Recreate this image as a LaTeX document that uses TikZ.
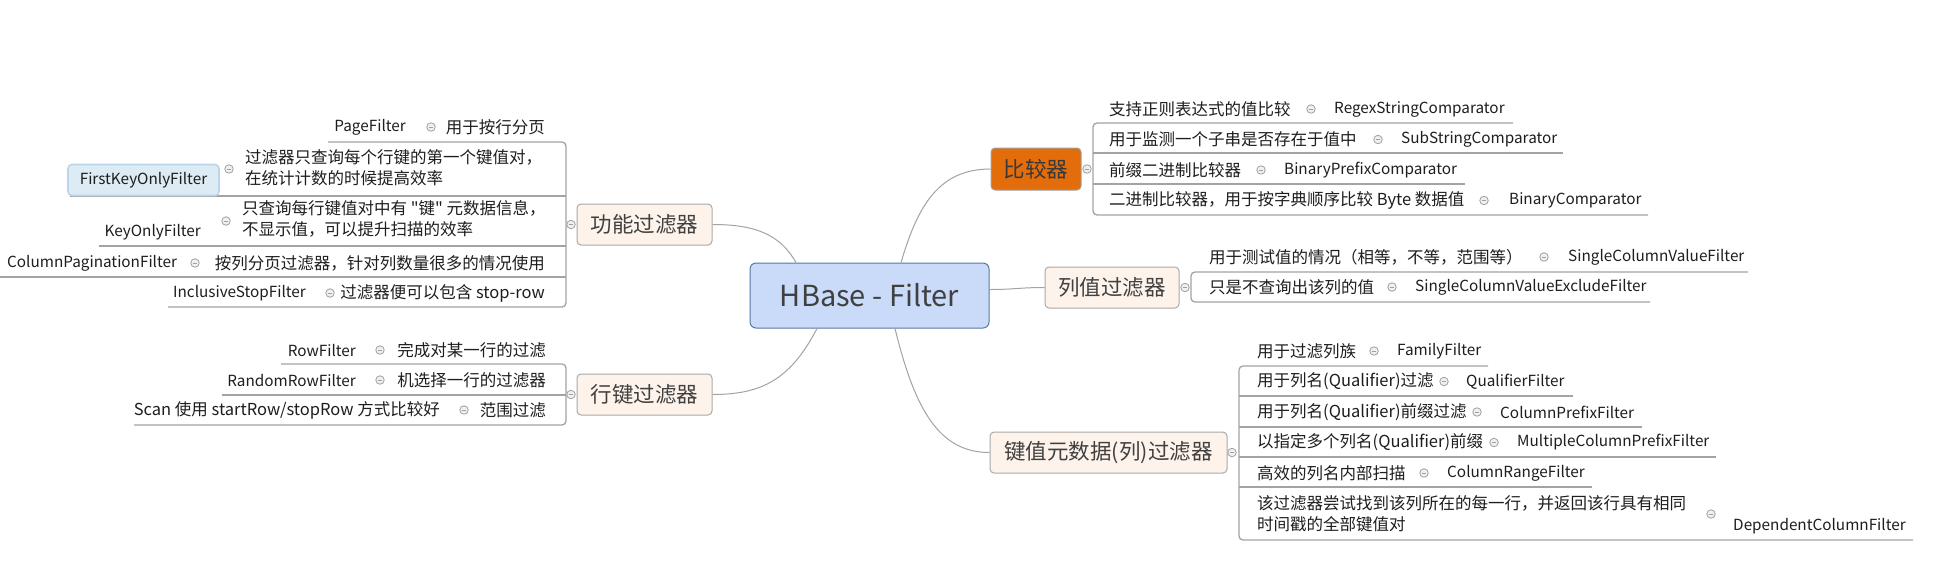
\documentclass[tikz,border=0pt]{standalone}
\usepackage{fontspec}
\setmainfont{Noto Sans CJK SC}[Ligatures=TeXOff]
\definecolor{lineg}{HTML}{A3A3A3}
\definecolor{txt}{HTML}{1E1E1E}
\definecolor{ntxt}{HTML}{404040}
\definecolor{otxt}{HTML}{383838}
\definecolor{hbfill}{HTML}{C9DBF9}
\definecolor{hbdraw}{HTML}{5B76A6}
\definecolor{brfill}{HTML}{FDF3EA}
\definecolor{brdraw}{HTML}{A9A9A9}
\definecolor{orng}{HTML}{E36C0B}
\definecolor{fkfill}{HTML}{DDEBF4}
\definecolor{fkdraw}{HTML}{BBD6EA}
\definecolor{togd}{HTML}{A0A0A0}
\definecolor{togf}{HTML}{F0F0F0}
\newcommand{\ulrow}[4]{\coordinate (#1a) at (#2,#4); \coordinate (#1b) at (#3,#4); \draw[ul] (#1a) -- (#1b);}
\begin{document}
\begin{tikzpicture}[x=1pt,y=-1pt,
  leaf/.style={inner sep=0pt, font=\fontsize{16.5}{21}\selectfont, text=txt},
  leafw/.style={leaf, anchor=west},
  leafe/.style={leaf, anchor=east},
  cls/.style={inner sep=0pt, font=\fontsize{15.3}{19}\selectfont, text=txt},
  clsw/.style={cls, anchor=west},
  clse/.style={cls, anchor=east},
  tog/.style={circle, draw=togd, fill=togf, line width=0.8pt, minimum size=8.5pt, inner sep=0pt,
    path picture={\draw[togd, line width=0.9pt] ([xshift=-2.3pt]path picture bounding box.center) -- ([xshift=2.3pt]path picture bounding box.center);}},
  ul/.style={draw=lineg, line width=1.3pt},
  brk/.style={ul, rounded corners=4pt},
  conn/.style={draw=lineg, line width=1pt},
  branch/.style={draw=brdraw, fill=brfill, rounded corners=4pt, line width=1pt, minimum height=41pt,
    font=\fontsize{21.5}{24}\selectfont, text=ntxt, inner sep=0pt},
  hbnode/.style={draw=hbdraw, fill=hbfill, rounded corners=6pt, line width=1pt, minimum width=239pt,
    minimum height=65pt, font=\fontsize{29}{32}\selectfont, text=ntxt, inner sep=0pt},
  fknode/.style={draw=fkdraw, fill=fkfill, rounded corners=4pt, line width=1.6pt, minimum width=151pt,
    minimum height=31pt, font=\fontsize{15.3}{19}\selectfont, text=txt, inner sep=0pt}
]
\fill[white] (0,0) rectangle (1934,566);
\useasboundingbox (0,0) rectangle (1934,566);

% central and branch nodes
\node[hbnode] (hb) at (869.5,295.5) {HBase - Filter};
\node[branch, fill=orng, draw=togd, minimum width=90pt, minimum height=42pt, text=otxt] (cmp) at (1036,169) {比较器};
\node[branch, minimum width=134pt] (cv) at (1112,287.5) {列值过滤器};
\node[branch, minimum width=237pt] (kv) at (1108.5,452.5) {键值元数据(列)过滤器};
\node[branch, minimum width=135pt] (fn) at (644.5,224.5) {功能过滤器};
\node[branch, minimum width=135pt] (rk) at (644.5,394.5) {行键过滤器};

% connectors
\draw[conn] ([xshift=31.5pt]hb.north) .. controls +(17,-58) and +(-51,0) .. (cmp.west);
\draw[conn] ([yshift=6pt]hb.east) .. controls +(25,0) and +(-25,0) .. (cv.west);
\draw[conn] ([xshift=25.5pt]hb.south) .. controls +(20,82) and +(-50,0) .. (kv.west);
\draw[conn] ([xshift=-73.5pt]hb.north) .. controls +(-16,-28) and +(43,0) .. (fn.east);
\draw[conn] ([xshift=-52.5pt]hb.south) .. controls +(-27,52) and +(48,0) .. (rk.east);

% ---------- comparators ----------
\coordinate (cbt) at (1093,123); \coordinate (cbb) at (1093,215);
\coordinate (c1e) at (1513,123); \coordinate (c4e) at (1648,215);
\draw[brk] (c1e) -- (cbt) -- (cbb) -- (c4e);
\ulrow{c2u}{1093}{1563}{153}
\ulrow{c3u}{1093}{1465}{184}
\node[tog] (cmpt) at (1087,169) {};
\node[leafw] (c1) at (1109,109) {支持正则表达式的值比较};
\node[tog] (c1t) at (1311,109) {};
\node[clsw] (c1c) at (1334,109) {RegexStringComparator};
\node[leafw] (c2) at (1109,139.5) {用于监测一个子串是否存在于值中};
\node[tog] (c2t) at (1378,139.5) {};
\node[clsw] (c2c) at (1401,139.5) {SubStringComparator};
\node[leafw] (c3) at (1109,170) {前缀二进制比较器};
\node[tog] (c3t) at (1261,170) {};
\node[clsw] (c3c) at (1284,170) {BinaryPrefixComparator};
\node[leafw] (c4) at (1109,200.5) {二进制比较器，用于按字典顺序比较 Byte 数据值};
\node[tog] (c4t) at (1484,200.5) {};
\node[clsw] (c4c) at (1509,200.5) {BinaryComparator};

% ---------- column value filters ----------
\coordinate (vbt) at (1191,272); \coordinate (vbb) at (1191,302);
\coordinate (v1e) at (1748,272); \coordinate (v2e) at (1650,302);
\draw[brk] (v1e) -- (vbt) -- (vbb) -- (v2e);
\node[tog] (cvt) at (1185,287.5) {};
\node[leafw] (v1) at (1209,257) {用于测试值的情况（相等，不等，范围等）};
\node[tog] (v1t) at (1544,257) {};
\node[clsw] (v1c) at (1568,257) {SingleColumnValueFilter};
\node[leafw] (v2) at (1209,287) {只是不查询出该列的值};
\node[tog] (v2t) at (1392,287) {};
\node[clsw] (v2c) at (1415,287) {SingleColumnValueExcludeFilter};

% ---------- key-value metadata filters ----------
\coordinate (kbt) at (1239,366); \coordinate (kbb) at (1239,540);
\coordinate (k1e) at (1488,366); \coordinate (k6e) at (1913,540);
\draw[brk] (k1e) -- (kbt) -- (kbb) -- (k6e);
\ulrow{k2u}{1239}{1573}{396}
\ulrow{k3u}{1239}{1642}{427}
\ulrow{k4u}{1239}{1716}{457}
\ulrow{k5u}{1239}{1592}{487}
\node[tog] (kvt) at (1232,452.5) {};
\node[leafw] (k1) at (1257,351) {用于过滤列族};
\node[tog] (k1t) at (1374,351) {};
\node[clsw] (k1c) at (1397,351) {FamilyFilter};
\node[leafw] (k2) at (1257,381.5) {用于列名(Qualifier)过滤};
\node[tog] (k2t) at (1444,381.5) {};
\node[clsw] (k2c) at (1466,381.5) {QualifierFilter};
\node[leafw] (k3) at (1257,412) {用于列名(Qualifier)前缀过滤};
\node[tog] (k3t) at (1477,412) {};
\node[clsw] (k3c) at (1500,412) {ColumnPrefixFilter};
\node[leafw] (k4) at (1257,442.5) {以指定多个列名(Qualifier)前缀};
\node[tog] (k4t) at (1494,442.5) {};
\node[clsw] (k4c) at (1517,442.5) {MultipleColumnPrefixFilter};
\node[leafw] (k5) at (1257,473) {高效的列名内部扫描};
\node[tog] (k5t) at (1424,473) {};
\node[clsw] (k5c) at (1447,473) {ColumnRangeFilter};
\node[leafw, align=left] (k6) at (1257,513.5) {该过滤器尝试找到该列所在的每一行，并返回该行具有相同\\时间戳的全部键值对};
\node[tog] (k6t) at (1711,514) {};
\node[clsw] (k6c) at (1733,526) {DependentColumnFilter};

% ---------- function filters (left) ----------
\coordinate (fbt) at (566,142); \coordinate (fbb) at (566,307);
\coordinate (f1s) at (328,142); \coordinate (f5s) at (168,307);
\draw[brk] (f1s) -- (fbt) -- (fbb) -- (f5s);
\ulrow{f2u}{566}{70}{196}
\ulrow{f3u}{566}{99}{246}
\ulrow{f4u}{566}{0}{277}
\node[tog] (fnt) at (571,224.5) {};
\node[leafe] (f1) at (545,127) {用于按行分页};
\node[tog] (f1t) at (431,127) {};
\node[clse] (f1c) at (406,127) {PageFilter};
\node[leafw, align=left] (f2) at (245,167.5) {过滤器只查询每个行键的第一个键值对，\\在统计计数的时候提高效率};
\node[tog] (f2t) at (229,169) {};
\node[fknode] (f2c) at (143.5,180) {FirstKeyOnlyFilter};
\node[leafw, align=left] (f3) at (242,219) {只查询每行键值对中有 "键" 元数据信息，\\不显示值，可以提升扫描的效率};
\node[tog] (f3t) at (226,221) {};
\node[clse] (f3c) at (201,232) {KeyOnlyFilter};
\node[leafe] (f4) at (545,263) {按列分页过滤器，针对列数量很多的情况使用};
\node[tog] (f4t) at (195,263) {};
\node[clsw] (f4c) at (7,263) {ColumnPaginationFilter};
\node[leafe] (f5) at (545,293) {过滤器便可以包含 stop-row};
\node[tog] (f5t) at (330,293) {};
\node[clse] (f5c) at (306,293) {InclusiveStopFilter};

% ---------- row key filters (left) ----------
\coordinate (rbt) at (566,364); \coordinate (rbb) at (566,425);
\coordinate (r1s) at (281,364); \coordinate (r3s) at (134,425);
\draw[brk] (r1s) -- (rbt) -- (rbb) -- (r3s);
\ulrow{r2u}{566}{222}{395}
\node[tog] (rkt) at (571,394.5) {};
\node[leafe] (r1) at (546,350) {完成对某一行的过滤};
\node[tog] (r1t) at (380,350) {};
\node[clse] (r1c) at (356,350) {RowFilter};
\node[leafe] (r2) at (546,380) {机选择一行的过滤器};
\node[tog] (r2t) at (380,380) {};
\node[clse] (r2c) at (356,380) {RandomRowFilter};
\node[leafe] (r3) at (546,410) {范围过滤};
\node[tog] (r3t) at (464,410) {};
\node[leafe] (r3c) at (440,410) {Scan 使用 startRow/stopRow 方式比较好};
\end{tikzpicture}
\end{document}
